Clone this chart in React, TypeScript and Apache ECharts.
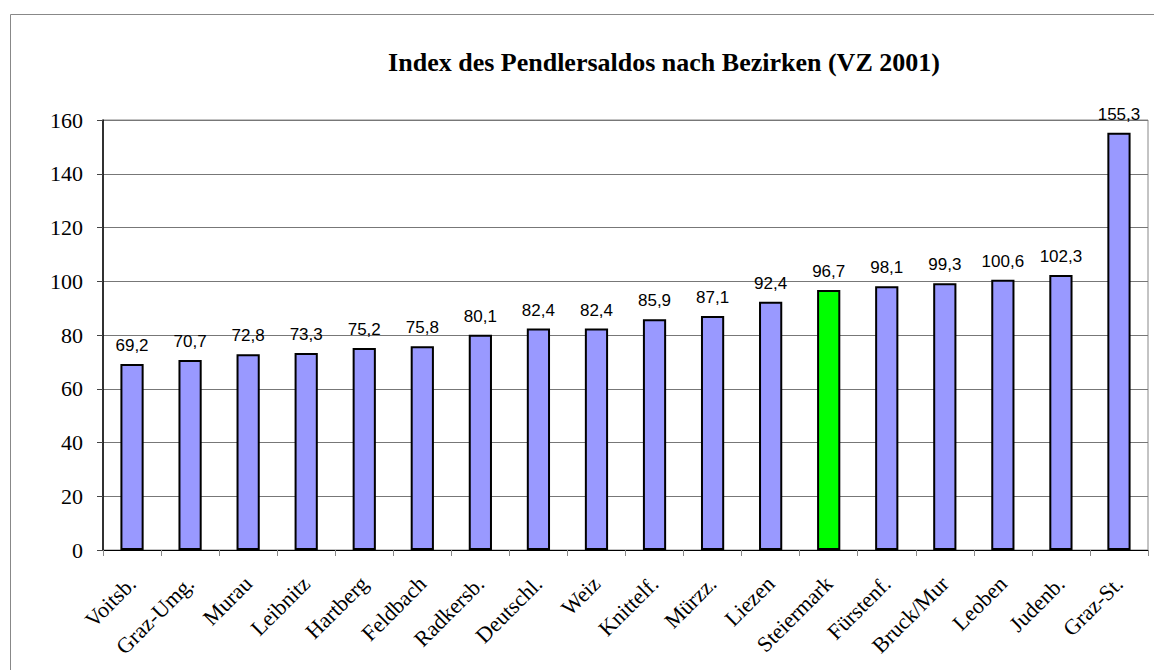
import React, { useEffect, useRef } from "react";
import * as echarts from "echarts";

const categories = ["Voitsb.", "Graz-Umg.", "Murau", "Leibnitz", "Hartberg", "Feldbach", "Radkersb.", "Deutschl.", "Weiz", "Knittelf.", "Mürzz.", "Liezen", "Steiermark", "Fürstenf.", "Bruck/Mur", "Leoben", "Judenb.", "Graz-St."];
const values = [69.2, 70.7, 72.8, 73.3, 75.2, 75.8, 80.1, 82.4, 82.4, 85.9, 87.1, 92.4, 96.7, 98.1, 99.3, 100.6, 102.3, 155.3];
const highlight = "Steiermark";
const title = "Index des Pendlersaldos nach Bezirken (VZ 2001)";

export default function App() {
  const ref = useRef<HTMLDivElement>(null);
  useEffect(() => {
    if (!ref.current) return;
    const chart = echarts.init(ref.current, null, { renderer: "svg" });
    chart.setOption({
      animation: false,
      backgroundColor: "#fff",
      title: {
        text: title,
        left: 659,
        top: 44,
        textAlign: "center",
        textStyle: { fontFamily: "Liberation Serif", fontWeight: "bold", fontSize: 26, color: "#000" },
      },
      graphic: [
        {
          type: "rect",
          shape: { x: 10.5, y: 14.5, width: 1160, height: 700 },
          style: { fill: "none", stroke: "#888", lineWidth: 1 },
          silent: true,
        },
      ],
      grid: { left: 103, right: 6, top: 120, bottom: 120, show: true, borderColor: "#888", borderWidth: 1 },
      xAxis: {
        type: "category",
        data: categories,
        axisLine: { lineStyle: { color: "#000", width: 1 } },
        axisTick: { show: true, length: 6, lineStyle: { color: "#888" } },
        axisLabel: { rotate: 45, interval: 0, fontFamily: "Liberation Serif", fontSize: 22, color: "#000", margin: 30 },
      },
      yAxis: {
        type: "value",
        min: 0,
        max: 160,
        interval: 20,
        axisLine: { show: true, lineStyle: { color: "#000", width: 1.5 } },
        axisTick: { show: true, length: 6, lineStyle: { color: "#444" } },
        axisLabel: { fontFamily: "Liberation Serif", fontSize: 22, color: "#000", margin: 20 },
        splitLine: { lineStyle: { color: "#777", width: 1 } },
      },
      series: [
        {
          type: "bar",
          barWidth: "40%",
          data: values.map((v, i) => ({
            value: v,
            itemStyle: { color: categories[i] === highlight ? "#00FF00" : "#9999FF" },
          })),
          itemStyle: { borderColor: "#000", borderWidth: 2 },
          label: {
            show: true,
            position: "top",
            distance: 10,
            fontFamily: "Liberation Sans",
            fontSize: 17,
            color: "#000",
            formatter: (p: any) => String(p.value).replace(".", ","),
          },
        },
      ],
    });
    return () => chart.dispose();
  }, []);
  return <div ref={ref} style={{ position: "fixed", left: 0, top: 0, width: 1154, height: 670 }} />;
}
